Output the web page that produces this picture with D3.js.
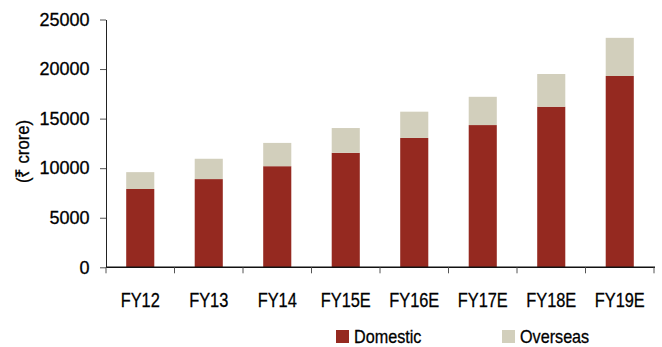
<!DOCTYPE html>
<html>
<head>
<meta charset="utf-8">
<script src="https://cdn.jsdelivr.net/npm/d3@7"></script>
<style>
  html, body { margin: 0; padding: 0; background: #fff; }
  svg text { font-family: "Liberation Sans", Arial, sans-serif; fill: #000; stroke: #000; stroke-width: 0.3px; }
</style>
</head>
<body>
<svg id="chart" width="662" height="347"></svg>
<script>
const categories = ["FY12", "FY13", "FY14", "FY15E", "FY16E", "FY17E", "FY18E", "FY19E"];
const domestic = [7900, 8900, 10200, 11550, 13050, 14350, 16200, 19300];
const overseas = [1700, 2050, 2350, 2500, 2650, 2850, 3300, 3850];
const yTicks = [0, 5000, 10000, 15000, 20000, 25000];
const seriesNames = ["Domestic", "Overseas"];
const colors = ["#952920", "#D2CFBC"];

const svg = d3.select("#chart");
const x = d3.scaleBand().domain(categories).range([106, 654]).paddingInner(0.59).paddingOuter(0.295);
const xAxisScale = d3.scaleBand().domain(categories).range([106, 654]);
const y = d3.scaleLinear().domain([0, 25000]).range([267.3, 19.5]);

const rows = categories.map((c, i) => ({ cat: c, Domestic: domestic[i], Overseas: overseas[i] }));
const stacked = d3.stack().keys(seriesNames)(rows);

svg.append("g").selectAll("g").data(stacked).join("g")
  .attr("fill", (d, i) => colors[i])
  .selectAll("rect").data(d => d).join("rect")
  .attr("x", d => x(d.data.cat))
  .attr("width", x.bandwidth())
  .attr("y", d => y(d[1]))
  .attr("height", d => y(d[0]) - y(d[1]));

// Y axis
const yAxis = svg.append("g").attr("transform", "translate(106,0)")
  .call(d3.axisLeft(y).tickValues(yTicks).tickFormat(d3.format("d")).tickSize(6).tickSizeOuter(0).tickPadding(10.5));
yAxis.select(".domain").attr("stroke", "#222").attr("stroke-width", 1);
yAxis.selectAll(".tick line").attr("stroke", "#555");
yAxis.selectAll("text").attr("font-size", 18).attr("fill", "#000").attr("font-family", '"Liberation Sans", Arial, sans-serif');

// X axis: ticks at band boundaries
const xg = svg.append("g").attr("transform", `translate(0,${y(0)})`);
xg.append("line").attr("x1", 106).attr("x2", 655).attr("y1", 0).attr("y2", 0).attr("stroke", "#111").attr("stroke-width", 1.5);
const bounds = categories.map(c => xAxisScale(c)).concat([xAxisScale.range()[1]]);
xg.selectAll("line.tk").data(bounds).join("line").attr("class", "tk")
  .attr("x1", d => d).attr("x2", d => d).attr("y1", 0).attr("y2", 6).attr("stroke", "#555");
xg.selectAll("text").data(categories).join("text")
  .attr("transform", d => `translate(${xAxisScale(d) + xAxisScale.bandwidth() / 2},${307 - y(0)}) scale(0.78,1)`)
  .attr("text-anchor", "middle")
  .attr("font-size", 21)
  .text(d => d);

// Y label
svg.append("text")
  .attr("transform", "translate(29,151.5) rotate(-90) scale(0.88,1)")
  .attr("text-anchor", "middle")
  .attr("font-size", 19)
  .text("(₹ crore)");

// Legend
const legendX = [336, 502];
const lg = svg.append("g").selectAll("g").data(seriesNames).join("g")
  .attr("transform", (d, i) => `translate(${legendX[i]},330)`);
lg.append("rect").attr("width", 13).attr("height", 13).attr("fill", (d, i) => colors[i]);
lg.append("text").attr("transform", "translate(18,13.3) scale(0.87,1)").attr("font-size", 18.6).text(d => d);
</script>
</body>
</html>
